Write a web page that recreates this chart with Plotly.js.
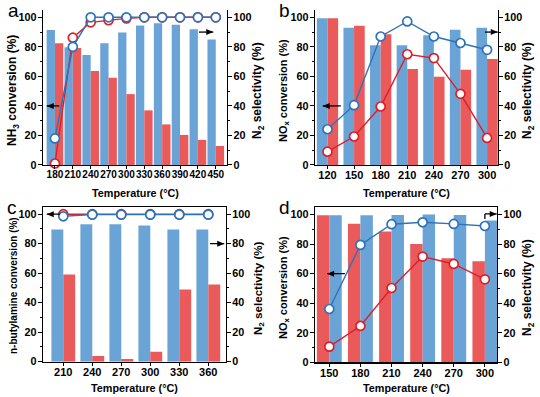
<!DOCTYPE html>
<html>
<head>
<meta charset="utf-8">
<script src="https://cdn.plot.ly/plotly-3.0.1.min.js"></script>
<style>html,body{margin:0;padding:0;background:#fff;}#chart{width:540px;height:397px;}</style>
</head>
<body>
<div id="chart"></div>
<script>
// ---- Data ----
const tempsA = ['180','210','240','270','300','330','360','390','420','450'];
const aBlueBar = [91.4, 79.7, 74.5, 82.4, 89.8, 94.4, 96, 95, 92, 85];
const aRedBar = [82.4, 79.2, 63.7, 59.1, 48, 37, 27.5, 20.3, 17, 12.9];
const aBlueLine = [18, 80, 100, 100, 100, 100, 100, 100, 100, 100];
const aRedLine = [1, 86.2, 96.6, 98, 99.3, 100, 100, 100, 100, 100];

const tempsB = ['120','150','180','210','240','270','300'];
const bBlueBar = [99.3, 93, 81, 81, 87.8, 91.6, 93];
const bRedBar = [99.3, 94.3, 88.5, 65, 59.7, 64.5, 71.7];
const bBlueLine = [24.2, 40.5, 87, 97.2, 87, 82.6, 78];
const bRedLine = [9, 19.3, 39.6, 75, 72.4, 48.2, 18.3];

const tempsC = ['210','240','270','300','330','360'];
const cBlueBar = [89.6, 93.2, 93.2, 92.3, 89.6, 89.6];
const cRedBar = [59.1, 3.8, 1.8, 6.8, 49, 52.4];
const cBlueLine = [98.6, 99.7, 99.7, 99.7, 99.7, 99.7];
const cRedLine = [100, 100, 100, 100, 100, 100];

const tempsD = ['150','180','210','240','270','300'];
const dRedBar = [99.5, 93.8, 88.5, 80.1, 70.4, 68.4];
const dBlueBar = [99.5, 99.5, 99.7, 100, 99.7, 96];
const dBlueLine = [36.1, 79.5, 93.5, 94.8, 93.7, 92.3];
const dRedLine = [10.6, 24.6, 50.3, 71.6, 66.6, 56.2];

const yTicks = [0, 20, 40, 60, 80, 100];
const xTitle = 'Temperature (°C)';
const yTitleRight = 'N<sub>2</sub> selectivity (%)';
const yTitleA = 'NH<sub>3</sub> conversion (%)';
const yTitleB = 'NO<sub>x</sub> conversion (%)';
const yTitleC = 'n-butylamine conversion (%)';
const yTitleD = 'NO<sub>x</sub> conversion (%)';

// ---- Styles ----
const FONT = 'Liberation Sans, Arial, sans-serif';
const BAR_BLUE = 'rgb(106,164,214)';
const BAR_RED = 'rgb(234,90,90)';
const LINE_BLUE = 'rgb(45,115,185)';
const LINE_RED = 'rgb(222,30,40)';

function bar(x, y, color, xa, ya, w, off) {
  return {type:'bar', x:x, y:y, xaxis:xa, yaxis:ya, width:w, offset:off,
    marker:{color:color, line:{width:0}}, showlegend:false, hoverinfo:'skip'};
}
function line(x, y, color, xa, ya) {
  return {type:'scatter', mode:'lines+markers', x:x, y:y, xaxis:xa, yaxis:ya,
    line:{color:color, width:1.4},
    marker:{symbol:'circle', size:9, color:'#fff', line:{color:color, width:1.7}},
    showlegend:false, hoverinfo:'skip', cliponaxis:false};
}

const traces = [
  bar(tempsA, aBlueBar, BAR_BLUE, 'x', 'y', 0.465, -0.465),
  bar(tempsA, aRedBar, BAR_RED, 'x', 'y', 0.465, 0),
  line(tempsA, aRedLine, LINE_RED, 'x', 'y2'),
  line(tempsA, aBlueLine, LINE_BLUE, 'x', 'y2'),

  bar(tempsB, bBlueBar, BAR_BLUE, 'x2', 'y3', 0.4, -0.4),
  bar(tempsB, bRedBar, BAR_RED, 'x2', 'y3', 0.4, 0),
  line(tempsB, bRedLine, LINE_RED, 'x2', 'y4'),
  line(tempsB, bBlueLine, LINE_BLUE, 'x2', 'y4'),

  bar(tempsC, cBlueBar, BAR_BLUE, 'x3', 'y5', 0.41, -0.41),
  bar(tempsC, cRedBar, BAR_RED, 'x3', 'y5', 0.41, 0),
  line(tempsC, cRedLine, LINE_RED, 'x3', 'y6'),
  line(tempsC, cBlueLine, LINE_BLUE, 'x3', 'y6'),

  bar(tempsD, dRedBar, BAR_RED, 'x4', 'y7', 0.4, -0.4),
  bar(tempsD, dBlueBar, BAR_BLUE, 'x4', 'y7', 0.4, 0),
  line(tempsD, dRedLine, LINE_RED, 'x4', 'y8'),
  line(tempsD, dBlueLine, LINE_BLUE, 'x4', 'y8')
];

function tf(size) { return {family:FONT, size:size, color:'#000', weight:'bold'}; }

function xAx(domain, range, anchor, mirror, fs) {
  return {domain:domain, range:range, type:'category', anchor:anchor,
    showline:true, linecolor:'#000', linewidth:1.2, mirror:mirror,
    ticks:'outside', ticklen:3, tickwidth:1, tickcolor:'#000', tickangle:0,
    ticklabelstandoff:-3,
    tickfont:tf(fs), showgrid:false, zeroline:false, fixedrange:true, automargin:false};
}
function yAx(domain, anchor) {
  return {domain:domain, range:[0,105], anchor:anchor, side:'left',
    showline:true, linecolor:'#000', linewidth:1.2,
    tickmode:'array', tickvals:yTicks, ticks:'outside', ticklen:4, tickwidth:1, tickcolor:'#000',
    minor:{dtick:10, tick0:0, ticks:'outside', ticklen:2, tickcolor:'#000', showgrid:false},
    ticklabelstandoff:-1,
    tickfont:tf(10.8), showgrid:false, zeroline:false, fixedrange:true, automargin:false};
}
function yAxR(over, anchor) {
  const o = yAx(null, anchor);
  delete o.domain;
  o.overlaying = over; o.side = 'right';
  return o;
}

const dA = [0.5844, 0.975];
const dC = [0.0889, 0.479];

const layout = {
  width:540, height:397,
  margin:{l:0, r:0, t:0, b:0},
  paper_bgcolor:'#fff', plot_bgcolor:'rgba(0,0,0,0)',
  barmode:'overlay', showlegend:false,
  font:{family:FONT, color:'#000'},
  xaxis: xAx([0.0796, 0.4204], [-0.67, 9.63], 'y', false, 10),
  yaxis: yAx(dA, 'x'),
  yaxis2: yAxR('y', 'x'),
  xaxis2: xAx([0.5833, 0.9222], [-0.47, 6.41], 'y3', false, 11),
  yaxis3: yAx(dA, 'x2'),
  yaxis4: yAxR('y3', 'x2'),
  xaxis3: xAx([0.0796, 0.4185], [-0.7, 5.61], 'y5', true, 11),
  yaxis5: yAx(dC, 'x3'),
  yaxis6: yAxR('y5', 'x3'),
  xaxis4: xAx([0.5833, 0.9204], [-0.46, 5.39], 'y7', true, 11),
  yaxis7: yAx([0.0874, 0.478], 'x4'),
  yaxis8: yAxR('y7', 'x4'),
  shapes: [],
  annotations: []
};

// arrows drawn as a line plus a pixel-sized triangular head
function arrow(xr, yr, hx, hy, tx, ty) {
  const dir = hx < tx ? 1 : -1; // 1 = pointing left
  layout.shapes.push({type:'line', xref:xr, yref:yr, x0:tx, y0:ty, x1:hx, y1:hy,
    line:{color:'#000', width:1.3}});
  layout.shapes.push({type:'path', xref:xr, yref:yr, xsizemode:'pixel', ysizemode:'pixel',
    xanchor:hx, yanchor:hy, path:'M0,0 L'+(7*dir)+',3 L'+(7*dir)+',-3 Z',
    fillcolor:'#000', line:{width:0}});
}
arrow('x', 'y', -0.46, 40, 0.24, 40);
arrow('x', 'y', 8.86, 90, 8.06, 90);
arrow('x2', 'y3', -0.18, 40, 0.5, 40);
arrow('x2', 'y3', 6.4, 90, 5.92, 90);
arrow('x3', 'y5', -0.57, 100, -0.11, 100);
arrow('x3', 'y5', 5.55, 80, 5.06, 80);
arrow('x4', 'y7', -0.07, 60, 0.5, 60);
arrow('x4', 'y7', 5.38, 100.5, 5.0, 100.5);
layout.shapes.push({type:'line', xref:'x4', yref:'y7', x0:5.0, x1:5.0, y0:97, y1:100.5,
  line:{color:'#000', width:1.3}});

function txt(t, px, py, opts) {
  return Object.assign({xref:'paper', yref:'paper', x:px/540, y:1-py/397, text:t, showarrow:false,
    xanchor:'center', yanchor:'middle'}, opts);
}
const xtF = tf(10.8);
layout.annotations.push(
  txt(xTitle, 135, 193, {font:xtF}),
  txt(xTitle, 406.5, 193, {font:xtF}),
  txt(xTitle, 134.5, 388, {font:xtF}),
  txt(xTitle, 406, 388, {font:xtF}),
  txt(yTitleA, 13, 91, {font:tf(12), textangle:-90}),
  txt(yTitleRight, 258, 91, {font:tf(12), textangle:-90}),
  txt(yTitleB, 284, 91, {font:tf(11), textangle:-90}),
  txt(yTitleRight, 528, 91, {font:tf(12), textangle:-90}),
  txt(yTitleC, 13, 286, {font:tf(10), textangle:-90}),
  txt(yTitleRight, 258, 288, {font:tf(11.6), textangle:-90}),
  txt(yTitleD, 284, 288, {font:tf(11), textangle:-90}),
  txt(yTitleRight, 528, 288, {font:tf(12), textangle:-90})
);
const lf = {family:FONT, size:19, color:'#000'};
layout.annotations.push(txt('a', 13, 11, {font:lf}), txt('b', 284, 11, {font:lf}),
  txt('c', 12, 207, {font:lf}), txt('d', 284, 207, {font:lf}));

Plotly.newPlot('chart', traces, layout, {staticPlot:true, displayModeBar:false});
</script>
</body>
</html>
